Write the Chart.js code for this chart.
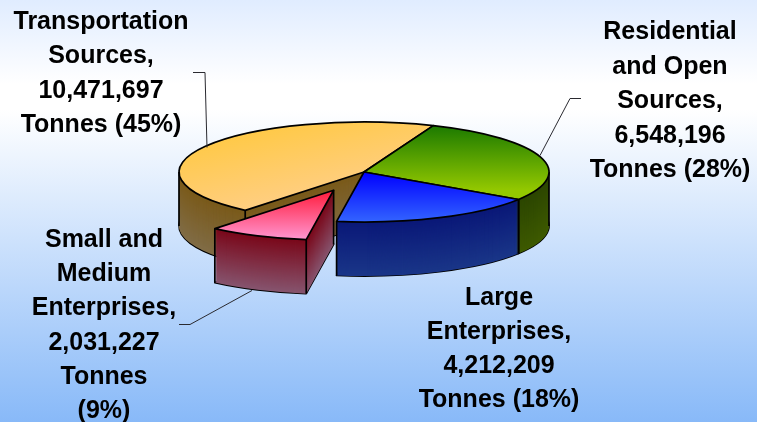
<!DOCTYPE html>
<html>
<head>
<meta charset="utf-8">
<style>html,body{margin:0;padding:0;background:#fff}canvas{display:block}</style>
<script src="https://cdn.jsdelivr.net/npm/chart.js@4/dist/chart.umd.js"></script>
</head>
<body>
<canvas id="c" width="757" height="422"></canvas>
<script>
const categories = ['Residential and Open Sources','Large Enterprises','Small and Medium Enterprises','Transportation Sources'];
const tonnes = [6548196, 4212209, 2031227, 10471697];
const labelLines = [
  ['Residential','and Open','Sources,','6,548,196','Tonnes (28%)'],
  ['Large','Enterprises,','4,212,209','Tonnes (18%)'],
  ['Small and','Medium','Enterprises,','2,031,227','Tonnes','(9%)'],
  ['Transportation','Sources,','10,471,697','Tonnes (45%)']
];
const labelCenterX = [670, 499, 104, 101];
const labelFirstBaseline = [39, 305, 247, 29];
const labelLineHeight = [34.5, 34, 34.2, 34.4];
const leaders = [
  [[581,98],[570,98],[540,155]],
  [],
  [[179,324],[190,324],[252,290]],
  [[193,72],[205,72],[207,147]]
];
const topGradients = [
  {from:[0,126],to:[0,190],stops:['#1c7a00','#93c800']},
  {from:[0,172],to:[0,224],stops:['#0000ff','#3568ff']},
  {from:[0,190],to:[0,238],stops:['#ff1a3a','#ff92cc']},
  {from:[200,125],to:[400,190],stops:['#ffc83a','#ffcf8c']}
];
const wallTop = [[44,70,0],[10,24,120],[122,8,26],[122,90,26]];
const wallBottom = [[62,90,0],[26,54,136],[134,84,110],[128,108,70]];
const explodedIndex = 2;

const CX = 364, CY = 172, RX = 185, RY = 50, DEPTH = 54, EXPLODE = 0.40, LINE = 1.7;

function lerp(a,b,t){return a+(b-a)*t;}
const pie3d = {
  id:'pie3d',
  beforeDraw(chart){
    const {ctx,width,height}=chart;
    const g=ctx.createLinearGradient(0,0,0,height);
    g.addColorStop(0,'#e0ecff');
    g.addColorStop(0.2,'#ffffff');
    g.addColorStop(0.26,'#ffffff');
    g.addColorStop(1,'#88b9f8');
    ctx.save();ctx.fillStyle=g;ctx.fillRect(0,0,width,height);ctx.restore();
  },
  beforeDatasetsDraw(chart){
    const ctx=chart.ctx;
    const arcs=chart.getDatasetMeta(0).data;
    const R=arcs[0].outerRadius, ax=arcs[0].x, ay=arcs[0].y;
    const sx=RX/R, sy=RY/R;
    const shift=i=>{
      if(i!==explodedIndex) return [0,0];
      const mid=(arcs[i].startAngle+arcs[i].endAngle)/2;
      return [Math.cos(mid)*EXPLODE*R,Math.sin(mid)*EXPLODE*R];
    };
    const place=(i,k)=>{
      const [dx,dy]=shift(i);
      ctx.setTransform(sx,0,0,sy,CX-sx*ax+sx*dx,CY+k-sy*ay+sy*dy);
    };
    const paint=(i,fill,stroked)=>{
      const el=Object.create(arcs[i]);
      el.options=Object.assign({},arcs[i].options,{
        backgroundColor:fill,borderColor:'#000',borderWidth:stroked?1:0,offset:0,spacing:0
      });
      if(stroked){
        const base=CanvasRenderingContext2D.prototype.stroke;
        ctx.stroke=function(){
          ctx.save();ctx.setTransform(1,0,0,1,0,0);ctx.lineWidth=LINE;ctx.lineJoin='round';base.call(ctx);ctx.restore();
        };
      }
      el.draw(ctx);
      if(stroked) delete ctx.stroke;
    };
    const walls=i=>{
      place(i,DEPTH);paint(i,'rgb('+wallBottom[i].join(',')+')',true);
      for(let k=DEPTH;k>=1;k--){
        const t=(DEPTH-k)/(DEPTH-1);
        const c=wallBottom[i].map((v,n)=>Math.round(lerp(v,wallTop[i][n],t)));
        place(i,k);paint(i,'rgb('+c.join(',')+')',false);
      }
    };
    const edges=i=>{
      const a=arcs[i];
      const [dx,dy]=shift(i);
      const two=Math.PI*2;
      const norm=v=>((v%two)+two)%two;
      const s=norm(a.startAngle), c=a.endAngle-a.startAngle;
      const list=[a.startAngle,a.endAngle].filter(t=>Math.sin(t)>-0.05);
      [0,Math.PI].forEach(t=>{ if(norm(t-s)<c) list.push(t); });
      ctx.save();ctx.setTransform(1,0,0,1,0,0);
      ctx.strokeStyle='#000';ctx.lineWidth=LINE;ctx.beginPath();
      list.forEach(t=>{
        const x=CX+sx*(dx+Math.cos(t)*R), y=CY+sy*(dy+Math.sin(t)*R);
        ctx.moveTo(x,y);ctx.lineTo(x,y+DEPTH);
      });
      if(i===explodedIndex){
        const x=CX+sx*dx,y=CY+sy*dy;
        ctx.moveTo(x,y);ctx.lineTo(x,y+DEPTH);
      }
      ctx.stroke();ctx.restore();
    };
    const top=i=>{
      place(i,0);
      const m=ctx.getTransform().inverse();
      const G=topGradients[i];
      const p=m.transformPoint({x:G.from[0],y:G.from[1]}), q=m.transformPoint({x:G.to[0],y:G.to[1]});
      const g=ctx.createLinearGradient(p.x,p.y,q.x,q.y);
      g.addColorStop(0,G.stops[0]);g.addColorStop(1,G.stops[1]);
      paint(i,g,true);
    };
    ctx.save();
    const order=[3,0,1];
    order.forEach(i=>{walls(i);edges(i);});
    order.forEach(top);
    walls(explodedIndex);edges(explodedIndex);top(explodedIndex);
    ctx.restore();
    ctx.setTransform(1,0,0,1,0,0);
    return false;
  },
  afterDraw(chart){
    const ctx=chart.ctx;
    ctx.save();
    ctx.strokeStyle='#2a2a30';ctx.lineWidth=1;
    leaders.forEach(l=>{
      if(!l.length) return;
      ctx.beginPath();
      l.forEach((p,i)=> i?ctx.lineTo(p[0],p[1]+0.5):ctx.moveTo(p[0],p[1]+0.5));
      ctx.stroke();
    });
    ctx.fillStyle='#000';
    ctx.font='bold 25px "Liberation Sans", Arial, sans-serif';
    ctx.textAlign='center';ctx.textBaseline='alphabetic';
    labelLines.forEach((lines,i)=>{
      lines.forEach((t,n)=>ctx.fillText(t,labelCenterX[i],labelFirstBaseline[i]+n*labelLineHeight[i]));
    });
    ctx.restore();
  }
};
new Chart(document.getElementById('c'),{
  type:'pie',
  data:{labels:categories,datasets:[{data:tonnes,backgroundColor:['#8fc400','#3366ff','#ff92cc','#ffcc66'],borderWidth:0}]},
  options:{
    responsive:false,animation:false,rotation:22,
    layout:{padding:0},
    plugins:{legend:{display:false},tooltip:{enabled:false},title:{display:false}}
  },
  plugins:[pie3d]
});
</script>
</body>
</html>
